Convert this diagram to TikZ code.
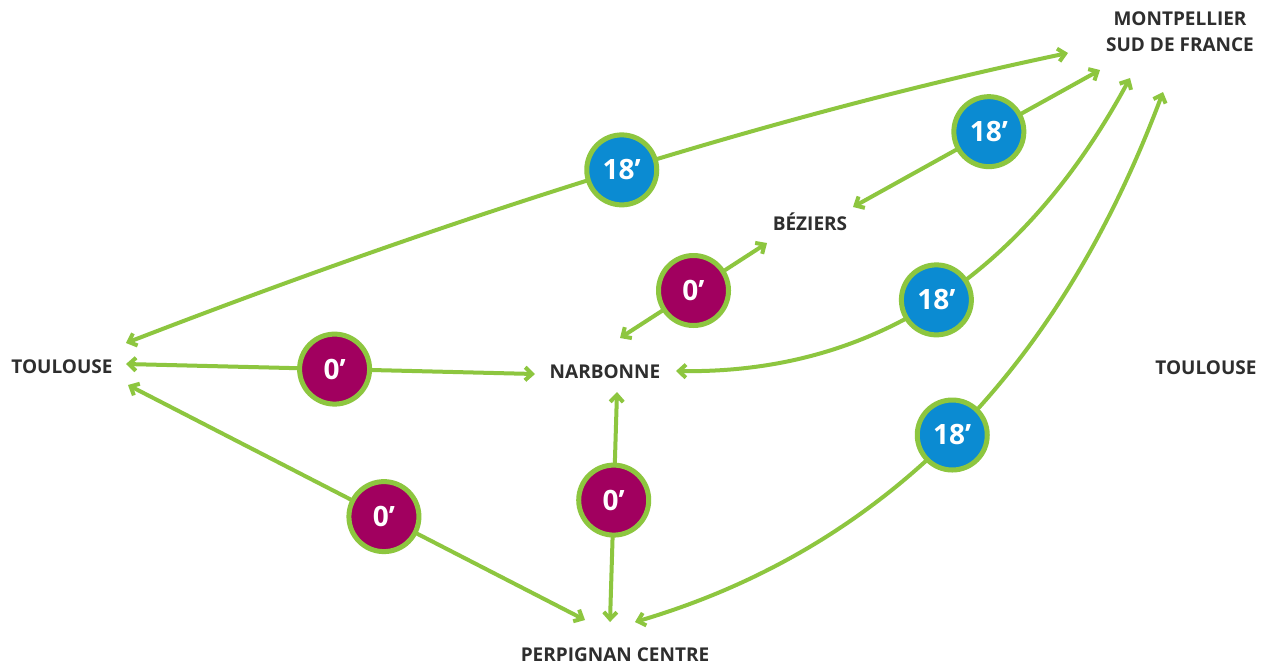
\documentclass[tikz,border=0pt]{standalone}
\usepackage{fontspec}
\setmainfont{Open Sans}
\usetikzlibrary{arrows.meta}
\definecolor{ink}{HTML}{2E2E2E}
\definecolor{leaf}{HTML}{8DC63F}
\definecolor{sky}{HTML}{0B8BD2}
\definecolor{plum}{HTML}{A1005F}
\tikzset{
  city/.style={font=\fontsize{19}{26}\selectfont\bfseries,text=ink,align=center,inner sep=0pt},
  link/.style={{Straight Barb[length=7pt,width=13pt]}-{Straight Barb[length=7pt,width=13pt]},line width=4pt,draw=leaf},
  wait/.style={circle,draw=leaf,line width=5pt,minimum size=70pt,inner sep=0pt,text=white,font=\fontsize{28}{28}\selectfont\bfseries},
  waitlong/.style={wait,fill=sky},
  waitnone/.style={wait,fill=plum}
}

\begin{document}
\begin{tikzpicture}[x=1pt,y=-1pt]
  \fill[white] (0,0) rectangle (1263,665);
  \useasboundingbox (0,0) rectangle (1263,665);

  \node[city] (tl) at (62,367) {TOULOUSE};
  \node[city] (tr) at (1206,368) {TOULOUSE};
  \node[city] (nb) at (605,372) {NARBONNE};
  \node[city] (bz) at (810,222) {BÉZIERS};
  \node[city] (pp) at (615,655) {PERPIGNAN CENTRE};
  \node[city] (mp) at (1180,32) {MONTPELLIER\\SUD DE FRANCE};

  \draw[link] ([shift={(64,-24)}]tl.center) .. controls (473,209) and (787,112) .. ([shift={(-112,21)}]mp.center)
    node[waitlong,pos=0.5] (w1) {18’};
  \draw[link] ([shift={(43,-15)}]bz.center) -- ([shift={(-80,38)}]mp.center)
    node[waitlong,pos=0.55] (w2) {18’};
  \draw[link] ([shift={(15,-34)}]nb.center) -- ([shift={(-43,21)}]bz.center)
    node[waitnone,pos=0.5] (w3) {0’};
  \draw[link] ([shift={(71,-1)}]nb.center) .. controls (872,374) and (1023,276) .. ([shift={(-50,46)}]mp.center)
    node[waitlong,pos=0.5] (w4) {18’};
  \draw[link] ([shift={(64,-3)}]tl.center) -- ([shift={(-70,2)}]nb.center)
    node[waitnone,pos=0.51] (w5) {0’};
  \draw[link] ([shift={(66,18)}]tl.center) -- ([shift={(-30,-35)}]pp.center)
    node[waitnone,pos=0.56] (w6) {0’};
  \draw[link] ([shift={(-5,-33)}]pp.center) -- ([shift={(12,20)}]nb.center)
    node[waitnone,pos=0.53] (w7) {0’};
  \draw[link] ([shift={(20,-33)}]pp.center) .. controls (882,549) and (1058,373) .. ([shift={(-17,60)}]mp.center)
    node[waitlong,pos=0.5] (w8) {18’};
\end{tikzpicture}
\end{document}
